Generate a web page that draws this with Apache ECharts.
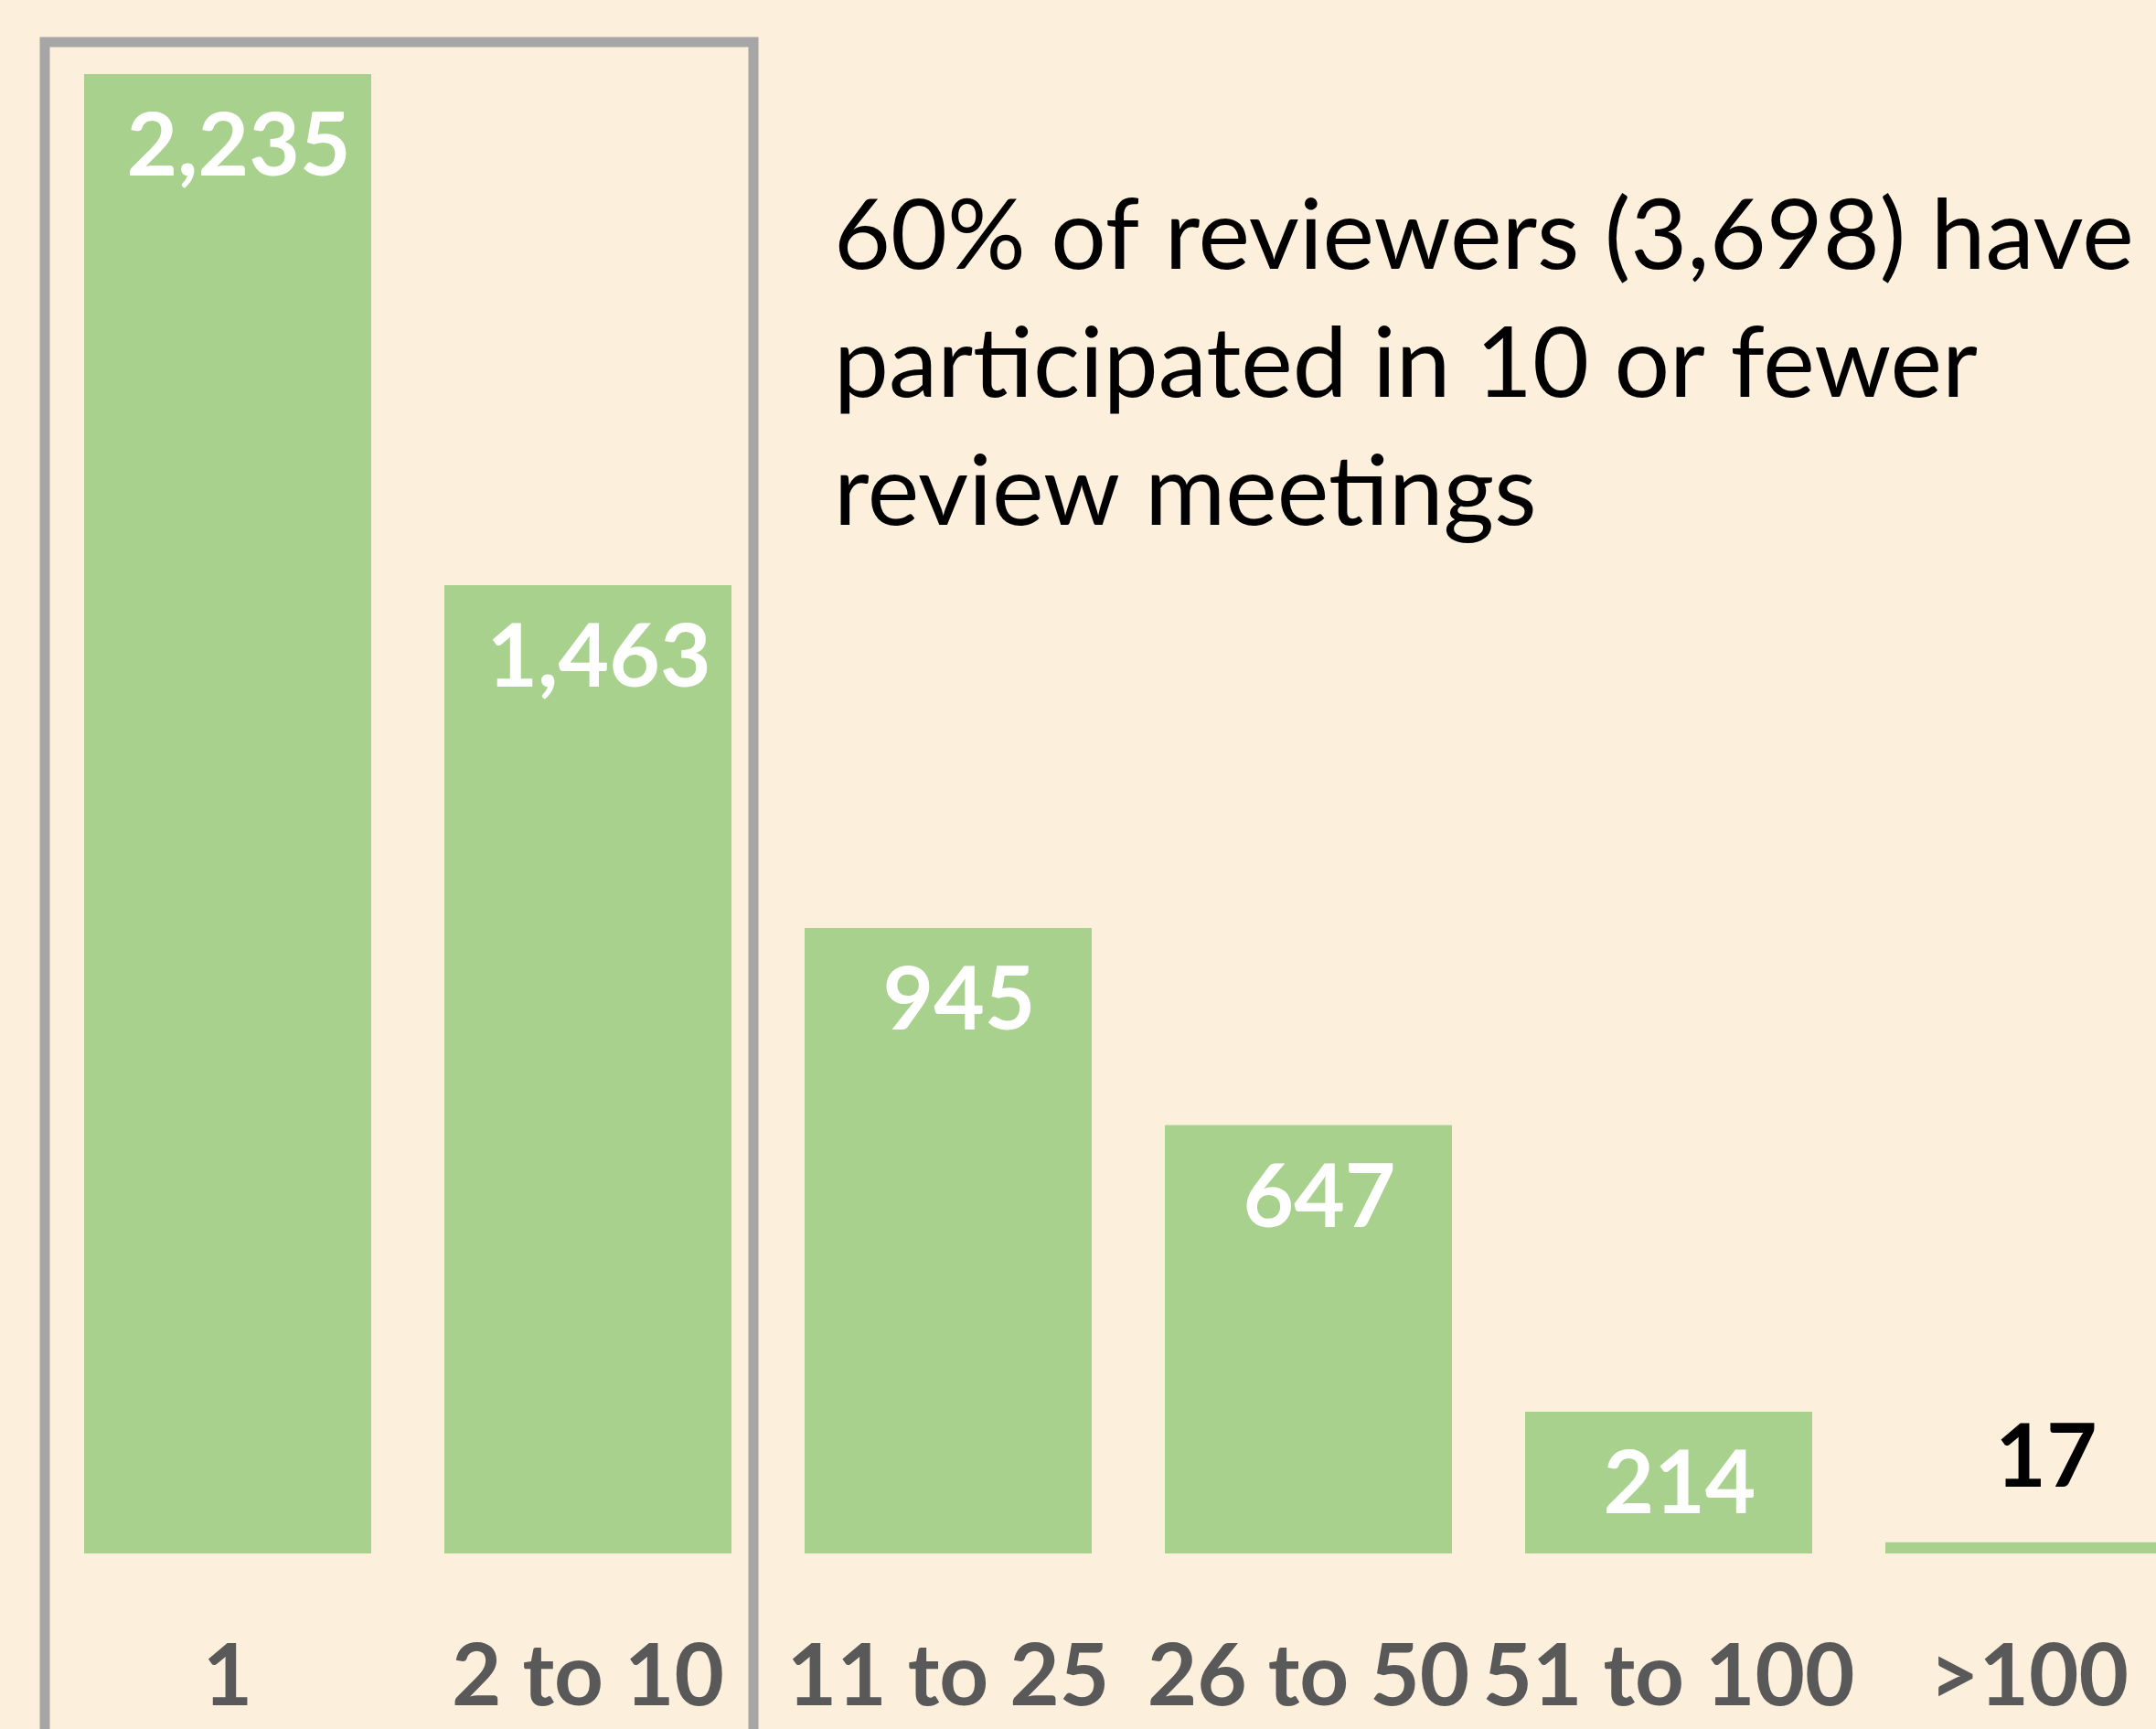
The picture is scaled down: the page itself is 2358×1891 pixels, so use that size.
<!DOCTYPE html>
<html>
<head>
<meta charset="utf-8">
<title>Reviewers by review meetings</title>
<script src="https://cdn.jsdelivr.net/npm/echarts@6/dist/echarts.min.js"></script>
<style>
  html, body { margin: 0; padding: 0; background: #fcefdc; }
  #chart { width: 2358px; height: 1891px; }
</style>
</head>
<body>
<div id="chart"></div>
<script>
// number of review meetings attended
const categories = ["1", "2 to 10", "11 to 25", "26 to 50", "51 to 100", ">100"];
// number of reviewers in each group
const reviewers = [2235, 1463, 945, 647, 214, 17];
const note = "60% of reviewers (3,698) have\nparticipated in 10 or fewer\nreview meetings";

const font = "Lato, 'Open Sans', sans-serif";
const fmt = v => Number(v).toLocaleString("en-US");

const chart = echarts.init(document.getElementById("chart"), null, { renderer: "canvas" });

// small bars get their label on top, in black
const barData = reviewers.map(v => {
  if (v < 100) {
    return {
      value: v,
      label: {
        position: "top",
        distance: 92,
        verticalAlign: "middle",
        color: "#000000",
        offset: [19, 0]
      }
    };
  }
  return v;
});

chart.setOption({
  backgroundColor: "#fcefdc",
  animation: false,
  grid: {
    left: 52,
    width: 2364,
    top: 81,
    bottom: 192,
    containLabel: false,
    outerBoundsMode: "none"
  },
  xAxis: {
    type: "category",
    data: categories,
    axisLine: { show: false },
    axisTick: { show: false },
    axisLabel: {
      margin: 136,
      verticalAlign: "middle",
      color: "#595959",
      fontFamily: font,
      fontWeight: "bold",
      fontSize: 94,
      interval: 0
    }
  },
  yAxis: {
    type: "value",
    min: 0,
    max: "dataMax",
    show: false,
    splitLine: { show: false }
  },
  series: [
    {
      type: "bar",
      data: barData,
      barWidth: 314,
      itemStyle: { color: "#a9d18e" },
      label: {
        show: true,
        position: "insideTop",
        distance: 80,
        verticalAlign: "middle",
        offset: [12, 0],
        color: "#ffffff",
        fontFamily: font,
        fontWeight: "bold",
        fontSize: 96,
        formatter: p => fmt(p.value)
      }
    }
  ],
  graphic: [
    {
      // outline round the first two groups
      type: "rect",
      shape: { x: 49, y: 46, width: 775, height: 2000 },
      style: { fill: null, stroke: "#a6a6a6", lineWidth: 11 },
      silent: true
    },
    {
      type: "text",
      left: 912,
      top: 189,
      style: {
        text: note,
        fill: "#000000",
        font: "107px " + font,
        lineHeight: 140
      }
    }
  ]
});
</script>
</body>
</html>
